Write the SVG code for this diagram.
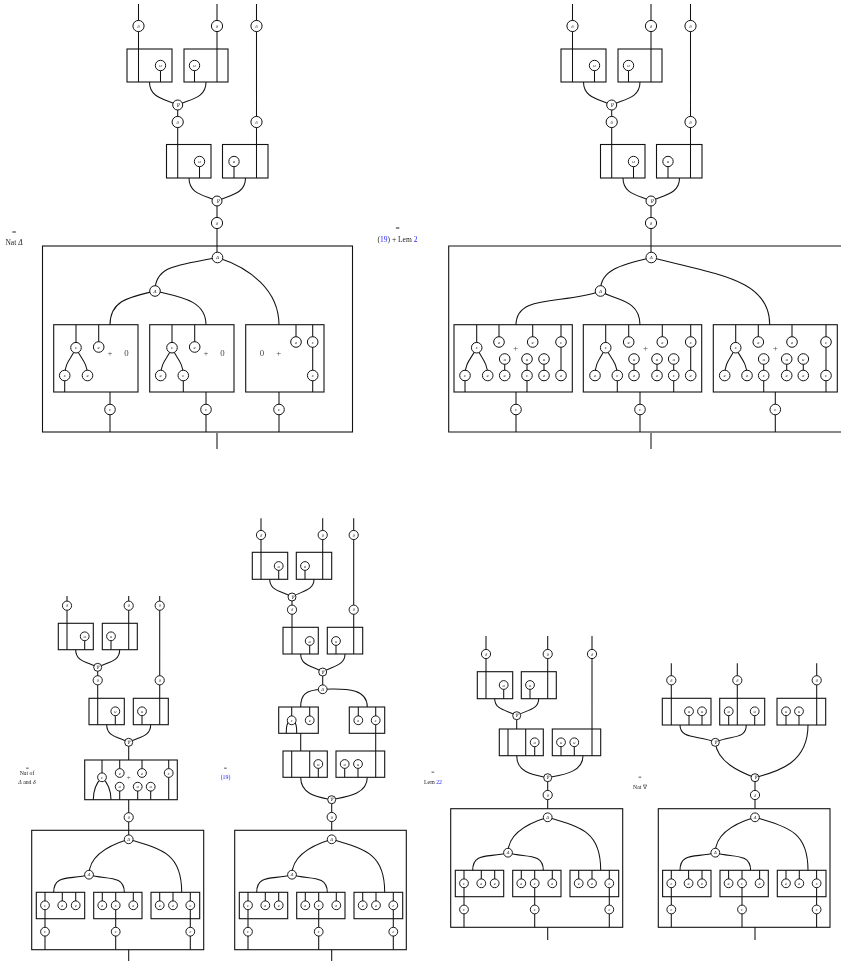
<svg xmlns="http://www.w3.org/2000/svg" width="841" height="961" viewBox="0 0 841 961">
<style>
.w{fill:none;stroke:#111;stroke-width:1.05}
.b{fill:none;stroke:#111;stroke-width:1.1}
.n circle{fill:#fff;stroke:#111;stroke-width:1}
.n text{font-family:"Liberation Serif",serif;font-style:italic;font-size:5px;text-anchor:middle;dominant-baseline:central;fill:#222}
.s circle{fill:#fff;stroke:#111;stroke-width:.95}
.s text{font-family:"Liberation Serif",serif;font-style:italic;font-size:4.5px;text-anchor:middle;dominant-baseline:central;fill:#222}
.t{font-family:"Liberation Serif",serif;font-size:7.5px;text-anchor:middle;fill:#222}
.u{font-family:"Liberation Serif",serif;font-size:5.8px;text-anchor:middle;fill:#222}
.l{fill:#22f}
.m{font-family:"Liberation Serif",serif;font-size:8.8px;text-anchor:middle;dominant-baseline:central;fill:#444}
</style>
<g id="diagram" opacity=".995">
<g id="labels">
<text class="t" x="14" y="235">=</text>
<text class="t" x="14" y="245">Nat <tspan font-style="italic">Δ</tspan></text>
<text class="t" x="397.5" y="231">=</text>
<text class="t" x="397.5" y="241.5">(<tspan class="l">19</tspan>) + Lem <tspan class="l">2</tspan></text>
<text class="u" x="27.3" y="770">=</text>
<text class="u" x="27" y="774.5">Nat of</text>
<text class="u" x="27" y="784"><tspan font-style="italic">Δ</tspan> and <tspan font-style="italic">δ</tspan></text>
<text class="u" x="225.5" y="770">=</text>
<text class="u l" x="225.5" y="779">(19)</text>
<text class="u" x="433" y="774">=</text>
<text class="u" x="433" y="784">Lem <tspan class="l">22</tspan></text>
<text class="u" x="640" y="779">=</text>
<text class="u" x="640" y="789">Nat ∇</text>
</g>

<g id="panel1">
<g id="p1-connectors">
<path class="w" d="M138.5 4V82M217 4V82M256.5 4V178M160.5 65.5V82M194.5 65.5V82M149.5 82C149.5 98 165 99 177.7 105M206 82C206 98 191 99 177.7 105M177.7 105V178M199.5 161.5V178M234 161.5V178M189 178C189 194 204 195 217 201M245.5 178C245.5 194 230 195 217 201M217 201V258M217 433V449"/>
<path class="w" d="M217.5 257.5C180 265 155 265 155 291M217.5 257.5C250 268 279 290 279 325M155 291C130 297 110 300 110 325M155 291C180 297 206 300 206 325"/>
<path class="w" d="M76 325V347.7M98.7 325V347M76 347.7C72 358 64.7 362 64.7 375.5M76 347.7C80 358 87.5 362 87.5 375.5M64.7 375.5V392M110 392V432"/>
<path class="w" d="M172 325V347.7M194.7 325V347M172 347.7C168 358 160.7 362 160.7 375.5M172 347.7C176 358 183.3 362 183.3 375.5M183.3 375.5V392M206 392V432"/>
<path class="w" d="M296 325V342M312.7 325V392M279 392V432"/>
</g>
<g id="p1-boxes">
<rect id="p1b1" class="b" x="127" y="49" width="45" height="33"/>
<rect id="p1b2" class="b" x="184" y="49" width="44" height="33"/>
<rect id="p1b3" class="b" x="166.5" y="144.5" width="44.5" height="33.5"/>
<rect id="p1b4" class="b" x="222.5" y="144.5" width="45.5" height="33.5"/>
<rect id="p1b5" class="b" x="42.5" y="246" width="310" height="186"/>
<rect id="p1b6" class="b" x="53.7" y="324.7" width="84.3" height="67.3"/>
<rect id="p1b7" class="b" x="149.7" y="324.7" width="84.3" height="67.3"/>
<rect id="p1b8" class="b" x="245.7" y="324.7" width="78.3" height="67.3"/>
</g>
<g id="p1-terms">
<text class="m" x="110" y="353">+</text><text class="m" x="126.5" y="353">0</text>
<text class="m" x="206" y="353">+</text><text class="m" x="222.5" y="353">0</text>
<text class="m" x="262" y="353">0</text><text class="m" x="278.7" y="353">+</text>
</g>
<g id="a1" class="n" transform="translate(138.5,26)"><circle r="5.6"/><text>δ</text></g>
<g id="a2" class="n" transform="translate(217,26)"><circle r="5.6"/><text>δ</text></g>
<g id="a3" class="n" transform="translate(256.5,26)"><circle r="5.6"/><text>δ</text></g>
<g id="a4" class="n" transform="translate(160.5,65.5)"><circle r="5.2"/><text>u</text></g>
<g id="a5" class="n" transform="translate(194.5,65.5)"><circle r="5.2"/><text>u</text></g>
<g id="a6" class="n" transform="translate(177.7,105)"><circle r="5"/><text font-style="normal">∇</text></g>
<g id="a7" class="n" transform="translate(177.7,122)"><circle r="5.6"/><text>δ</text></g>
<g id="a8" class="n" transform="translate(256.5,122)"><circle r="5.6"/><text>δ</text></g>
<g id="a9" class="n" transform="translate(199.5,161.5)"><circle r="5.2"/><text>u</text></g>
<g id="a10" class="n" transform="translate(234,161.5)"><circle r="5.2"/><text>u</text></g>
<g id="a11" class="n" transform="translate(217,201)"><circle r="5"/><text>∇</text></g>
<g id="a12" class="n" transform="translate(217,223)"><circle r="5.6"/><text>δ</text></g>
<g id="a13" class="n" transform="translate(217.5,257.5)"><circle r="5.3"/><text>Δ</text></g>
<g id="a14" class="n" transform="translate(155,291)"><circle r="5.3"/><text>Δ</text></g>
<g id="a15" class="n" transform="translate(76,347.7)"><circle r="5.3"/><text>ε</text></g>
<g id="a16" class="n" transform="translate(98.7,347)"><circle r="5.3"/><text>e</text></g>
<g id="a17" class="n" transform="translate(64.7,375.5)"><circle r="5.3"/><text>ε</text></g>
<g id="a18" class="n" transform="translate(87.5,375.5)"><circle r="5.3"/><text>e</text></g>
<g id="a19" class="n" transform="translate(110,409.5)"><circle r="5.3"/><text>ε</text></g>
<g id="a20" class="n" transform="translate(172,347.7)"><circle r="5.3"/><text>ε</text></g>
<g id="a21" class="n" transform="translate(194.7,347)"><circle r="5.3"/><text>e</text></g>
<g id="a22" class="n" transform="translate(160.7,375.5)"><circle r="5.3"/><text>e</text></g>
<g id="a23" class="n" transform="translate(183.3,375.5)"><circle r="5.3"/><text>ε</text></g>
<g id="a24" class="n" transform="translate(206,409.5)"><circle r="5.3"/><text>ε</text></g>
<g id="a25" class="n" transform="translate(296,342)"><circle r="5.3"/><text>e</text></g>
<g id="a26" class="n" transform="translate(312.7,342)"><circle r="5.3"/><text>ε</text></g>
<g id="a27" class="n" transform="translate(312.7,375.5)"><circle r="5.3"/><text>ε</text></g>
<g id="a28" class="n" transform="translate(279,409.5)"><circle r="5.3"/><text>ε</text></g>
</g>

<g id="panel2">
<g id="p2-connectors">
<path class="w" d="M572.5 4V82M651 4V82M690.5 4V178M594.5 65.5V82M628.5 65.5V82M583.5 82C583.5 98 599 99 611.7 105M640 82C640 98 625 99 611.7 105M611.7 105V178M633.5 161.5V178M668 161.5V178M623 178C623 194 638 195 651 201M679.5 178C679.5 194 664 195 651 201M651 201V258M651 433V449"/>
<path class="w" d="M651.3 257.5C620 265 600 270 600.5 291M651.3 257.5C720 275 770 280 769.7 325M600.5 291C565 305 516 293 516 325M600.5 291C612 300 640 298 640 325"/>
<path class="w" d="M476.7 325V347.7M499 325V342M532.7 325V342M561 325V375.5M476.7 347.7C472 358 465 362 465 375.5M476.7 347.7C481 358 487.7 362 487.7 375.5M465 375.5V392M504.7 359V375.5M527 359V392M544 359V375.5M516 392V432"/>
<path class="w" d="M605.7 325V347.7M628.7 325V342M662.3 325V342M690.7 325V375.5M605.7 347.7C601 358 595 362 595 375.5M605.7 347.7C610 358 617.3 362 617.3 375.5M617.3 375.5V392M634 359V375.5M657 359V375.5M673.7 359V392M640 392V432"/>
<path class="w" d="M735.7 325V347.7M758.3 325V342M792 325V342M826 325V392M735.7 347.7C731 358 724.7 362 724.7 375.5M735.7 347.7C740 358 747 362 747 375.5M763.7 359V392M786.7 359V375.5M803.3 359V375.5M775.3 392V432"/>
</g>
<g id="p2-boxes">
<rect id="p2b1" class="b" x="561" y="49" width="45" height="33"/>
<rect id="p2b2" class="b" x="618" y="49" width="44" height="33"/>
<rect id="p2b3" class="b" x="600.5" y="144.5" width="44.5" height="33.5"/>
<rect id="p2b4" class="b" x="656.5" y="144.5" width="45.5" height="33.5"/>
<path id="p2b5" class="b" d="M846 246H448.7V432H846"/>
<rect id="p2b6" class="b" x="454" y="324.7" width="118.3" height="67.3"/>
<rect id="p2b7" class="b" x="583.3" y="324.7" width="118.4" height="67.3"/>
<rect id="p2b8" class="b" x="713.3" y="324.7" width="124" height="67.3"/>
</g>
<g id="p2-terms">
<text class="m" x="515.7" y="347.5">+</text>
<text class="m" x="645.5" y="347.5">+</text>
<text class="m" x="775.3" y="347.5">+</text>
</g>
<g id="b1" class="n" transform="translate(572.5,26)"><circle r="5.6"/><text>δ</text></g>
<g id="b2" class="n" transform="translate(651,26)"><circle r="5.6"/><text>δ</text></g>
<g id="b3" class="n" transform="translate(690.5,26)"><circle r="5.6"/><text>δ</text></g>
<g id="b4" class="n" transform="translate(594.5,65.5)"><circle r="5.2"/><text>u</text></g>
<g id="b5" class="n" transform="translate(628.5,65.5)"><circle r="5.2"/><text>u</text></g>
<g id="b6" class="n" transform="translate(611.7,105)"><circle r="5"/><text>∇</text></g>
<g id="b7" class="n" transform="translate(611.7,122)"><circle r="5.6"/><text>δ</text></g>
<g id="b8" class="n" transform="translate(690.5,122)"><circle r="5.6"/><text>δ</text></g>
<g id="b9" class="n" transform="translate(633.5,161.5)"><circle r="5.2"/><text>u</text></g>
<g id="b10" class="n" transform="translate(668,161.5)"><circle r="5.2"/><text>u</text></g>
<g id="b11" class="n" transform="translate(651,201)"><circle r="5"/><text>∇</text></g>
<g id="b12" class="n" transform="translate(651,223)"><circle r="5.6"/><text>δ</text></g>
<g id="b13" class="n" transform="translate(651.3,257.5)"><circle r="5.3"/><text>Δ</text></g>
<g id="b14" class="n" transform="translate(600.5,291)"><circle r="5.3"/><text>Δ</text></g>
<g id="b15" class="n" transform="translate(476.7,347.7)"><circle r="5.3"/><text>ε</text></g>
<g id="b16" class="n" transform="translate(499,342)"><circle r="5.3"/><text>e</text></g>
<g id="b17" class="n" transform="translate(532.7,342)"><circle r="5.3"/><text>e</text></g>
<g id="b18" class="n" transform="translate(561,342)"><circle r="5.3"/><text>ε</text></g>
<g id="b19" class="n" transform="translate(504.7,359)"><circle r="5.3"/><text>u</text></g>
<g id="b20" class="n" transform="translate(527,359)"><circle r="5.3"/><text>u</text></g>
<g id="b21" class="n" transform="translate(544,359)"><circle r="5.3"/><text>u</text></g>
<g id="b22" class="n" transform="translate(465,375.5)"><circle r="5.3"/><text>ε</text></g>
<g id="b23" class="n" transform="translate(487.7,375.5)"><circle r="5.3"/><text>e</text></g>
<g id="b24" class="n" transform="translate(504.7,375.5)"><circle r="5.3"/><text>e</text></g>
<g id="b25" class="n" transform="translate(527,375.5)"><circle r="5.3"/><text>ε</text></g>
<g id="b26" class="n" transform="translate(544,375.5)"><circle r="5.3"/><text>e</text></g>
<g id="b27" class="n" transform="translate(561,375.5)"><circle r="5.3"/><text>e</text></g>
<g id="b28" class="n" transform="translate(516,409.5)"><circle r="5.3"/><text>ε</text></g>
<g id="b29" class="n" transform="translate(605.7,347.7)"><circle r="5.3"/><text>ε</text></g>
<g id="b30" class="n" transform="translate(628.7,342)"><circle r="5.3"/><text>e</text></g>
<g id="b31" class="n" transform="translate(662.3,342)"><circle r="5.3"/><text>e</text></g>
<g id="b32" class="n" transform="translate(690.7,342)"><circle r="5.3"/><text>ε</text></g>
<g id="b33" class="n" transform="translate(634,359)"><circle r="5.3"/><text>u</text></g>
<g id="b34" class="n" transform="translate(657,359)"><circle r="5.3"/><text>u</text></g>
<g id="b35" class="n" transform="translate(673.7,359)"><circle r="5.3"/><text>u</text></g>
<g id="b36" class="n" transform="translate(595,375.5)"><circle r="5.3"/><text>e</text></g>
<g id="b37" class="n" transform="translate(617.3,375.5)"><circle r="5.3"/><text>ε</text></g>
<g id="b38" class="n" transform="translate(634,375.5)"><circle r="5.3"/><text>e</text></g>
<g id="b39" class="n" transform="translate(657,375.5)"><circle r="5.3"/><text>e</text></g>
<g id="b40" class="n" transform="translate(673.7,375.5)"><circle r="5.3"/><text>ε</text></g>
<g id="b41" class="n" transform="translate(690.7,375.5)"><circle r="5.3"/><text>e</text></g>
<g id="b42" class="n" transform="translate(640,409.5)"><circle r="5.3"/><text>ε</text></g>
<g id="b43" class="n" transform="translate(735.7,347.7)"><circle r="5.3"/><text>ε</text></g>
<g id="b44" class="n" transform="translate(758.3,342)"><circle r="5.3"/><text>e</text></g>
<g id="b45" class="n" transform="translate(792,342)"><circle r="5.3"/><text>e</text></g>
<g id="b46" class="n" transform="translate(826,342)"><circle r="5.3"/><text>ε</text></g>
<g id="b47" class="n" transform="translate(763.7,359)"><circle r="5.3"/><text>u</text></g>
<g id="b48" class="n" transform="translate(786.7,359)"><circle r="5.3"/><text>u</text></g>
<g id="b49" class="n" transform="translate(803.3,359)"><circle r="5.3"/><text>u</text></g>
<g id="b50" class="n" transform="translate(724.7,375.5)"><circle r="5.3"/><text>e</text></g>
<g id="b51" class="n" transform="translate(747,375.5)"><circle r="5.3"/><text>e</text></g>
<g id="b52" class="n" transform="translate(763.7,375.5)"><circle r="5.3"/><text>ε</text></g>
<g id="b53" class="n" transform="translate(786.7,375.5)"><circle r="5.3"/><text>e</text></g>
<g id="b54" class="n" transform="translate(803.3,375.5)"><circle r="5.3"/><text>e</text></g>
<g id="b55" class="n" transform="translate(826,375.5)"><circle r="5.3"/><text>ε</text></g>
<g id="b56" class="n" transform="translate(775.3,409.5)"><circle r="5.3"/><text>ε</text></g>
</g>

<g id="panel3">
<g id="p3-connectors">
<path class="w" d="M67 596V649.7M128.7 596V649.7M159.7 596V724.7M84.7 636.3V649.7M111 636.3V649.7M75.7 649.7C75.7 662 88 662 97.7 667.3M119.7 649.7C119.7 662 107 662 97.7 667.3M97.7 667.3V724.7M115.3 711.3V724.7M142 711.3V724.7M106.7 724.7C106.7 737 119 737 128.7 742.3M150.7 724.7C150.7 737 138 737 128.7 742.3M128.7 742.3V760"/>
<path class="w" d="M102 760V777.3M119.7 760V773M142 760V773M168.7 760V799.7M102 777.3C96 783 93.3 790 93.3 799.7M102 777.3C108 783 111 790 111 799.7M119.7 786.7V799.7M137.7 786.7V799.7M150.7 786.7V799.7M128.7 799.7V830.3"/>
<path class="w" d="M128.7 839.3C100 848 89 860 89 874.7M128.7 839.3C165 850 181.7 855 181.7 892.3M89 874.7C70 880 53.7 874 53.7 892.3M89 874.7C105 880 124.3 874 124.3 892.3M128.7 830.3V839.3M128.7 949.7V961"/>
<path class="w" d="M45 892.3V949.7M62.3 892.3V905.3M75.7 892.3V905.3M102.3 892.3V905.3M115.7 892.3V949.7M133.3 892.3V905.3M159.7 892.3V905.3M173 892.3V905.3M190.3 892.3V949.7"/>
</g>
<g id="p3-boxes">
<rect id="p3b1" class="b" x="58.3" y="623.3" width="35" height="26.4"/>
<rect id="p3b2" class="b" x="102.3" y="623.3" width="35" height="26.4"/>
<rect id="p3b3" class="b" x="89" y="698.3" width="35.3" height="26.4"/>
<rect id="p3b4" class="b" x="133.3" y="698.3" width="35" height="26.4"/>
<rect id="p3b5" class="b" x="84.7" y="760" width="92.6" height="39.7"/>
<rect id="p3b6" class="b" x="31.7" y="830.3" width="172" height="119.4"/>
<rect id="p3b7" class="b" x="36.3" y="892.3" width="48.4" height="26.4"/>
<rect id="p3b8" class="b" x="93.7" y="892.3" width="48.3" height="26.4"/>
<rect id="p3b9" class="b" x="151" y="892.3" width="48.7" height="26.4"/>
</g>
<text class="m" x="128.7" y="777.5" font-size="7" style="font-size:7px">+</text>
<g id="c1" class="s" transform="translate(67,605.7)"><circle r="4.6"/><text>δ</text></g>
<g id="c2" class="s" transform="translate(128.7,605.7)"><circle r="4.6"/><text>δ</text></g>
<g id="c3" class="s" transform="translate(159.7,605.7)"><circle r="4.6"/><text>δ</text></g>
<g id="c4" class="s" transform="translate(84.7,636.3)"><circle r="4.4"/><text>u</text></g>
<g id="c5" class="s" transform="translate(111,636.3)"><circle r="4.4"/><text>u</text></g>
<g id="c6" class="s" transform="translate(97.7,667.3)"><circle r="4"/><text>∇</text></g>
<g id="c7" class="s" transform="translate(97.7,680.3)"><circle r="4.6"/><text>δ</text></g>
<g id="c8" class="s" transform="translate(159.7,680.3)"><circle r="4.6"/><text>δ</text></g>
<g id="c9" class="s" transform="translate(115.3,711.3)"><circle r="4.4"/><text>u</text></g>
<g id="c10" class="s" transform="translate(142,711.3)"><circle r="4.4"/><text>u</text></g>
<g id="c11" class="s" transform="translate(128.7,742.3)"><circle r="4"/><text>∇</text></g>
<g id="c12" class="s" transform="translate(102,777.3)"><circle r="4.4"/><text>ε</text></g>
<g id="c13" class="s" transform="translate(119.7,773)"><circle r="4.4"/><text>e</text></g>
<g id="c14" class="s" transform="translate(142,773)"><circle r="4.4"/><text>e</text></g>
<g id="c15" class="s" transform="translate(168.7,773)"><circle r="4.4"/><text>ε</text></g>
<g id="c16" class="s" transform="translate(119.7,786.7)"><circle r="4.4"/><text>u</text></g>
<g id="c17" class="s" transform="translate(137.7,786.7)"><circle r="4.4"/><text>u</text></g>
<g id="c18" class="s" transform="translate(150.7,786.7)"><circle r="4.4"/><text>u</text></g>
<g id="c19" class="s" transform="translate(128.7,817.3)"><circle r="4.6"/><text>δ</text></g>
<g id="c20" class="s" transform="translate(128.7,839.3)"><circle r="4.4"/><text>Δ</text></g>
<g id="c21" class="s" transform="translate(89,874.7)"><circle r="4.4"/><text>Δ</text></g>
<g id="c22" class="s" transform="translate(45,905.3)"><circle r="4.4"/><text>ε</text></g>
<g id="c23" class="s" transform="translate(62.3,905.3)"><circle r="4.4"/><text>e</text></g>
<g id="c24" class="s" transform="translate(75.7,905.3)"><circle r="4.4"/><text>e</text></g>
<g id="c25" class="s" transform="translate(102.3,905.3)"><circle r="4.4"/><text>e</text></g>
<g id="c26" class="s" transform="translate(115.7,905.3)"><circle r="4.4"/><text>ε</text></g>
<g id="c27" class="s" transform="translate(133.3,905.3)"><circle r="4.4"/><text>e</text></g>
<g id="c28" class="s" transform="translate(159.7,905.3)"><circle r="4.4"/><text>e</text></g>
<g id="c29" class="s" transform="translate(173,905.3)"><circle r="4.4"/><text>e</text></g>
<g id="c30" class="s" transform="translate(190.3,905.3)"><circle r="4.4"/><text>ε</text></g>
<g id="c31" class="s" transform="translate(45,931.7)"><circle r="4.4"/><text>ε</text></g>
<g id="c32" class="s" transform="translate(115.7,931.7)"><circle r="4.4"/><text>ε</text></g>
<g id="c33" class="s" transform="translate(190.3,931.7)"><circle r="4.4"/><text>ε</text></g>
</g>

<g id="panel4">
<g id="p4-connectors">
<path class="w" d="M261 518.3V579.3M322.7 518.3V579.3M353.7 518.3V654M278.7 566V579.3M305 566V579.3M269.7 579.3C269.7 591 282 591 292 597M314 579.3C314 591 301 591 292 597M292 597V654M309.7 641V654M336 641V654M300.7 654C300.7 666 313 666 322.7 672M345 654C345 666 332 666 322.7 672M322.7 672V689.3"/>
<path class="w" d="M322.7 689.3C305 690 300.7 695 300.7 707M322.7 689.3C350 688 367.3 690 367.3 707"/>
<path class="w" d="M291.7 707V720.3M309.7 707V720.3M358.3 707V720.3M375.7 707V777.3M291.7 720.3C286 722 286.3 728 286.3 733.3M291.7 720.3C297 722 296.7 728 296.7 733.3M300.7 733.3V751M291.7 751V777.3M309.7 751V777.3M318.3 764V777.3M344.7 764V777.3M358 764V777.3"/>
<path class="w" d="M300.7 777.3C300.7 795 318 797 331.7 799.7M367.3 777.3C367.3 795 345 797 331.7 799.7M331.7 799.7V830.3"/>
<path class="w" d="M331.7 839.3C303 848 292 860 292 874.7M331.7 839.3C368 850 384.7 855 384.7 892.3M292 874.7C273 880 256.7 874 256.7 892.3M292 874.7C308 880 327.3 874 327.3 892.3M331.7 949.7V961"/>
<path class="w" d="M248 892.3V949.7M265.3 892.3V905.3M278.7 892.3V905.3M305.3 892.3V905.3M318.7 892.3V949.7M336.3 892.3V905.3M362.7 892.3V905.3M376 892.3V905.3M393.3 892.3V949.7"/>
</g>
<g id="p4-boxes">
<rect id="p4b1" class="b" x="252.3" y="552.3" width="35.4" height="27"/>
<rect id="p4b2" class="b" x="296.3" y="552.3" width="35.4" height="27"/>
<rect id="p4b3" class="b" x="283" y="627.3" width="35.3" height="26.7"/>
<rect id="p4b4" class="b" x="327.3" y="627.3" width="35.4" height="26.7"/>
<rect id="p4b5" class="b" x="278.7" y="707" width="39.6" height="26.3"/>
<rect id="p4b6" class="b" x="349.3" y="707" width="35.4" height="26.3"/>
<rect id="p4b7" class="b" x="283" y="751" width="44.3" height="26.3"/>
<rect id="p4b8" class="b" x="336" y="751" width="48.7" height="26.3"/>
<rect id="p4b9" class="b" x="234.7" y="830.3" width="171.6" height="119.4"/>
<rect id="p4b10" class="b" x="239.3" y="892.3" width="48.4" height="26.4"/>
<rect id="p4b11" class="b" x="296.7" y="892.3" width="48.3" height="26.4"/>
<rect id="p4b12" class="b" x="354" y="892.3" width="48.7" height="26.4"/>
</g>
<g id="d1" class="s" transform="translate(261,535)"><circle r="4.6"/><text>δ</text></g>
<g id="d2" class="s" transform="translate(322.7,535)"><circle r="4.6"/><text>δ</text></g>
<g id="d3" class="s" transform="translate(353.7,535)"><circle r="4.6"/><text>δ</text></g>
<g id="d4" class="s" transform="translate(278.7,566)"><circle r="4.4"/><text>u</text></g>
<g id="d5" class="s" transform="translate(305,566)"><circle r="4.4"/><text>u</text></g>
<g id="d6" class="s" transform="translate(292,597)"><circle r="4"/><text>∇</text></g>
<g id="d7" class="s" transform="translate(292,609.7)"><circle r="4.6"/><text>δ</text></g>
<g id="d8" class="s" transform="translate(353.7,609.7)"><circle r="4.6"/><text>δ</text></g>
<g id="d9" class="s" transform="translate(309.7,641)"><circle r="4.4"/><text>u</text></g>
<g id="d10" class="s" transform="translate(336,641)"><circle r="4.4"/><text>u</text></g>
<g id="d11" class="s" transform="translate(322.7,672)"><circle r="4"/><text>∇</text></g>
<g id="d12" class="s" transform="translate(322.7,689.3)"><circle r="4.4"/><text>Δ</text></g>
<g id="d13" class="s" transform="translate(291.7,720.3)"><circle r="4.4"/><text>ε</text></g>
<g id="d14" class="s" transform="translate(309.7,720.3)"><circle r="4.4"/><text>e</text></g>
<g id="d15" class="s" transform="translate(358.3,720.3)"><circle r="4.4"/><text>e</text></g>
<g id="d16" class="s" transform="translate(375.7,720.3)"><circle r="4.4"/><text>ε</text></g>
<g id="d17" class="s" transform="translate(318.3,764)"><circle r="4.4"/><text>u</text></g>
<g id="d18" class="s" transform="translate(344.7,764)"><circle r="4.4"/><text>u</text></g>
<g id="d19" class="s" transform="translate(358,764)"><circle r="4.4"/><text>u</text></g>
<g id="d20" class="s" transform="translate(331.7,799.7)"><circle r="4"/><text>∇</text></g>
<g id="d21" class="s" transform="translate(331.7,817)"><circle r="4.6"/><text>δ</text></g>
<g id="d22" class="s" transform="translate(331.7,839.3)"><circle r="4.4"/><text>Δ</text></g>
<g id="d23" class="s" transform="translate(292,874.7)"><circle r="4.4"/><text>Δ</text></g>
<g id="d24" class="s" transform="translate(248,905.3)"><circle r="4.4"/><text>ε</text></g>
<g id="d25" class="s" transform="translate(265.3,905.3)"><circle r="4.4"/><text>e</text></g>
<g id="d26" class="s" transform="translate(278.7,905.3)"><circle r="4.4"/><text>e</text></g>
<g id="d27" class="s" transform="translate(305.3,905.3)"><circle r="4.4"/><text>e</text></g>
<g id="d28" class="s" transform="translate(318.7,905.3)"><circle r="4.4"/><text>ε</text></g>
<g id="d29" class="s" transform="translate(336.3,905.3)"><circle r="4.4"/><text>e</text></g>
<g id="d30" class="s" transform="translate(362.7,905.3)"><circle r="4.4"/><text>e</text></g>
<g id="d31" class="s" transform="translate(376,905.3)"><circle r="4.4"/><text>e</text></g>
<g id="d32" class="s" transform="translate(393.3,905.3)"><circle r="4.4"/><text>ε</text></g>
<g id="d33" class="s" transform="translate(248,931.7)"><circle r="4.4"/><text>ε</text></g>
<g id="d34" class="s" transform="translate(318.7,931.7)"><circle r="4.4"/><text>ε</text></g>
<g id="d35" class="s" transform="translate(393.3,931.7)"><circle r="4.4"/><text>ε</text></g>
</g>

<g id="panel5">
<g id="p5-connectors">
<path class="w" d="M486 636V698.7M547.7 636V698.7M592 636V755.7M503.7 685V698.7M530 685V698.7M494.7 698.7C494.7 710 507 710 516.7 715.7M538.7 698.7C538.7 710 526 710 516.7 715.7M516.7 715.7V729M508 729V755.7M525.7 729V755.7M534.7 742.3V755.7M561 742.3V755.7M574.3 742.3V755.7"/>
<path class="w" d="M516.7 755.7C516.7 773 534 775 547.7 777.7M583 755.7C583 773 561 775 547.7 777.7M547.7 777.7V808.7"/>
<path class="w" d="M547.7 817.3C519 826 508 838 508 852.7M547.7 817.3C584 828 600.7 833 600.7 870.3M508 852.7C489 858 472.7 852 472.7 870.3M508 852.7C524 858 543.3 852 543.3 870.3M547.7 927.3V940"/>
<path class="w" d="M464 870.3V927.3M481.3 870.3V883.3M494.7 870.3V883.3M521.3 870.3V883.3M534.7 870.3V927.3M552.3 870.3V883.3M578.7 870.3V883.3M592 870.3V883.3M609.3 870.3V927.3"/>
</g>
<g id="p5-boxes">
<rect id="p5b1" class="b" x="477.3" y="671.7" width="35.4" height="27"/>
<rect id="p5b2" class="b" x="521.3" y="671.7" width="35" height="27"/>
<rect id="p5b3" class="b" x="499.3" y="729" width="44" height="26.7"/>
<rect id="p5b4" class="b" x="552.3" y="729" width="48.4" height="26.7"/>
<rect id="p5b5" class="b" x="450.7" y="808.7" width="172" height="118.6"/>
<rect id="p5b6" class="b" x="455.3" y="870.3" width="48.4" height="26.4"/>
<rect id="p5b7" class="b" x="512.7" y="870.3" width="48.3" height="26.4"/>
<rect id="p5b8" class="b" x="570" y="870.3" width="48.7" height="26.4"/>
</g>
<g id="e1" class="s" transform="translate(486,654)"><circle r="4.6"/><text>δ</text></g>
<g id="e2" class="s" transform="translate(547.7,654)"><circle r="4.6"/><text>δ</text></g>
<g id="e3" class="s" transform="translate(592,654)"><circle r="4.6"/><text>δ</text></g>
<g id="e4" class="s" transform="translate(503.7,685)"><circle r="4.4"/><text>u</text></g>
<g id="e5" class="s" transform="translate(530,685)"><circle r="4.4"/><text>u</text></g>
<g id="e6" class="s" transform="translate(516.7,715.7)"><circle r="4"/><text>∇</text></g>
<g id="e7" class="s" transform="translate(534.7,742.3)"><circle r="4.4"/><text>u</text></g>
<g id="e8" class="s" transform="translate(561,742.3)"><circle r="4.4"/><text>u</text></g>
<g id="e9" class="s" transform="translate(574.3,742.3)"><circle r="4.4"/><text>u</text></g>
<g id="e10" class="s" transform="translate(547.7,777.7)"><circle r="4"/><text>∇</text></g>
<g id="e11" class="s" transform="translate(547.7,795)"><circle r="4.6"/><text>δ</text></g>
<g id="e12" class="s" transform="translate(547.7,817.3)"><circle r="4.4"/><text>Δ</text></g>
<g id="e13" class="s" transform="translate(508,852.7)"><circle r="4.4"/><text>Δ</text></g>
<g id="e14" class="s" transform="translate(464,883.3)"><circle r="4.4"/><text>ε</text></g>
<g id="e15" class="s" transform="translate(481.3,883.3)"><circle r="4.4"/><text>e</text></g>
<g id="e16" class="s" transform="translate(494.7,883.3)"><circle r="4.4"/><text>e</text></g>
<g id="e17" class="s" transform="translate(521.3,883.3)"><circle r="4.4"/><text>e</text></g>
<g id="e18" class="s" transform="translate(534.7,883.3)"><circle r="4.4"/><text>ε</text></g>
<g id="e19" class="s" transform="translate(552.3,883.3)"><circle r="4.4"/><text>e</text></g>
<g id="e20" class="s" transform="translate(578.7,883.3)"><circle r="4.4"/><text>e</text></g>
<g id="e21" class="s" transform="translate(592,883.3)"><circle r="4.4"/><text>e</text></g>
<g id="e22" class="s" transform="translate(609.3,883.3)"><circle r="4.4"/><text>ε</text></g>
<g id="e23" class="s" transform="translate(464,909.5)"><circle r="4.4"/><text>ε</text></g>
<g id="e24" class="s" transform="translate(534.7,909.5)"><circle r="4.4"/><text>ε</text></g>
<g id="e25" class="s" transform="translate(609.3,909.5)"><circle r="4.4"/><text>ε</text></g>
</g>

<g id="panel6">
<g id="p6-connectors">
<path class="w" d="M671.3 663.3V725M737.3 663.3V725M816.7 663.3V725M689 711.3V725M702 711.3V725M728.7 711.3V725M754.7 711.3V725M786 711.3V725M799 711.3V725"/>
<path class="w" d="M680 725C680 740 700 735 715.3 742.3M746.3 725C746.3 740 730 735 715.3 742.3M715.3 742.3C717 762 740 772 755 777.7M808 725C808 765 775 772 755 777.7M755 777.7V808.7"/>
<path class="w" d="M755 817.3C726 826 715.3 838 715.3 852.7M755 817.3C791 828 808 833 808 870.3M715.3 852.7C696 858 680 852 680 870.3M715.3 852.7C731 858 750.6 852 750.6 870.3M755 927.3V940"/>
<path class="w" d="M671.3 870.3V927.3M688.6 870.3V883.3M702 870.3V883.3M728.6 870.3V883.3M742 870.3V927.3M759.6 870.3V883.3M786 870.3V883.3M799.3 870.3V883.3M816.6 870.3V927.3"/>
</g>
<g id="p6-boxes">
<rect id="p6b1" class="b" x="662.3" y="698.3" width="48.7" height="26.7"/>
<rect id="p6b2" class="b" x="719.7" y="698.3" width="45" height="26.7"/>
<rect id="p6b3" class="b" x="777" y="698.3" width="48.7" height="26.7"/>
<rect id="p6b4" class="b" x="658.3" y="808.7" width="171.7" height="118.6"/>
<rect id="p6b5" class="b" x="662.6" y="870.3" width="48.4" height="26.4"/>
<rect id="p6b6" class="b" x="720" y="870.3" width="48.3" height="26.4"/>
<rect id="p6b7" class="b" x="777.3" y="870.3" width="48.7" height="26.4"/>
</g>
<g id="f1" class="s" transform="translate(671.3,680.3)"><circle r="4.6"/><text>δ</text></g>
<g id="f2" class="s" transform="translate(737.3,680.3)"><circle r="4.6"/><text>δ</text></g>
<g id="f3" class="s" transform="translate(816.7,680.3)"><circle r="4.6"/><text>δ</text></g>
<g id="f4" class="s" transform="translate(689,711.3)"><circle r="4.4"/><text>u</text></g>
<g id="f5" class="s" transform="translate(702,711.3)"><circle r="4.4"/><text>u</text></g>
<g id="f6" class="s" transform="translate(728.7,711.3)"><circle r="4.4"/><text>u</text></g>
<g id="f7" class="s" transform="translate(754.7,711.3)"><circle r="4.4"/><text>u</text></g>
<g id="f8" class="s" transform="translate(786,711.3)"><circle r="4.4"/><text>u</text></g>
<g id="f9" class="s" transform="translate(799,711.3)"><circle r="4.4"/><text>u</text></g>
<g id="f10" class="s" transform="translate(715.3,742.3)"><circle r="4"/><text>∇</text></g>
<g id="f11" class="s" transform="translate(755,777.7)"><circle r="4"/><text>∇</text></g>
<g id="f12" class="s" transform="translate(755,795)"><circle r="4.6"/><text>δ</text></g>
<g id="f13" class="s" transform="translate(755,817.3)"><circle r="4.4"/><text>Δ</text></g>
<g id="f14" class="s" transform="translate(715.3,852.7)"><circle r="4.4"/><text>Δ</text></g>
<g id="f15" class="s" transform="translate(671.3,883.3)"><circle r="4.4"/><text>ε</text></g>
<g id="f16" class="s" transform="translate(688.6,883.3)"><circle r="4.4"/><text>e</text></g>
<g id="f17" class="s" transform="translate(702,883.3)"><circle r="4.4"/><text>e</text></g>
<g id="f18" class="s" transform="translate(728.6,883.3)"><circle r="4.4"/><text>e</text></g>
<g id="f19" class="s" transform="translate(742,883.3)"><circle r="4.4"/><text>ε</text></g>
<g id="f20" class="s" transform="translate(759.6,883.3)"><circle r="4.4"/><text>e</text></g>
<g id="f21" class="s" transform="translate(786,883.3)"><circle r="4.4"/><text>e</text></g>
<g id="f22" class="s" transform="translate(799.3,883.3)"><circle r="4.4"/><text>e</text></g>
<g id="f23" class="s" transform="translate(816.6,883.3)"><circle r="4.4"/><text>ε</text></g>
<g id="f24" class="s" transform="translate(671.3,909.5)"><circle r="4.4"/><text>ε</text></g>
<g id="f25" class="s" transform="translate(742,909.5)"><circle r="4.4"/><text>ε</text></g>
<g id="f26" class="s" transform="translate(816.6,909.5)"><circle r="4.4"/><text>ε</text></g>
</g>
</g>
</svg>
